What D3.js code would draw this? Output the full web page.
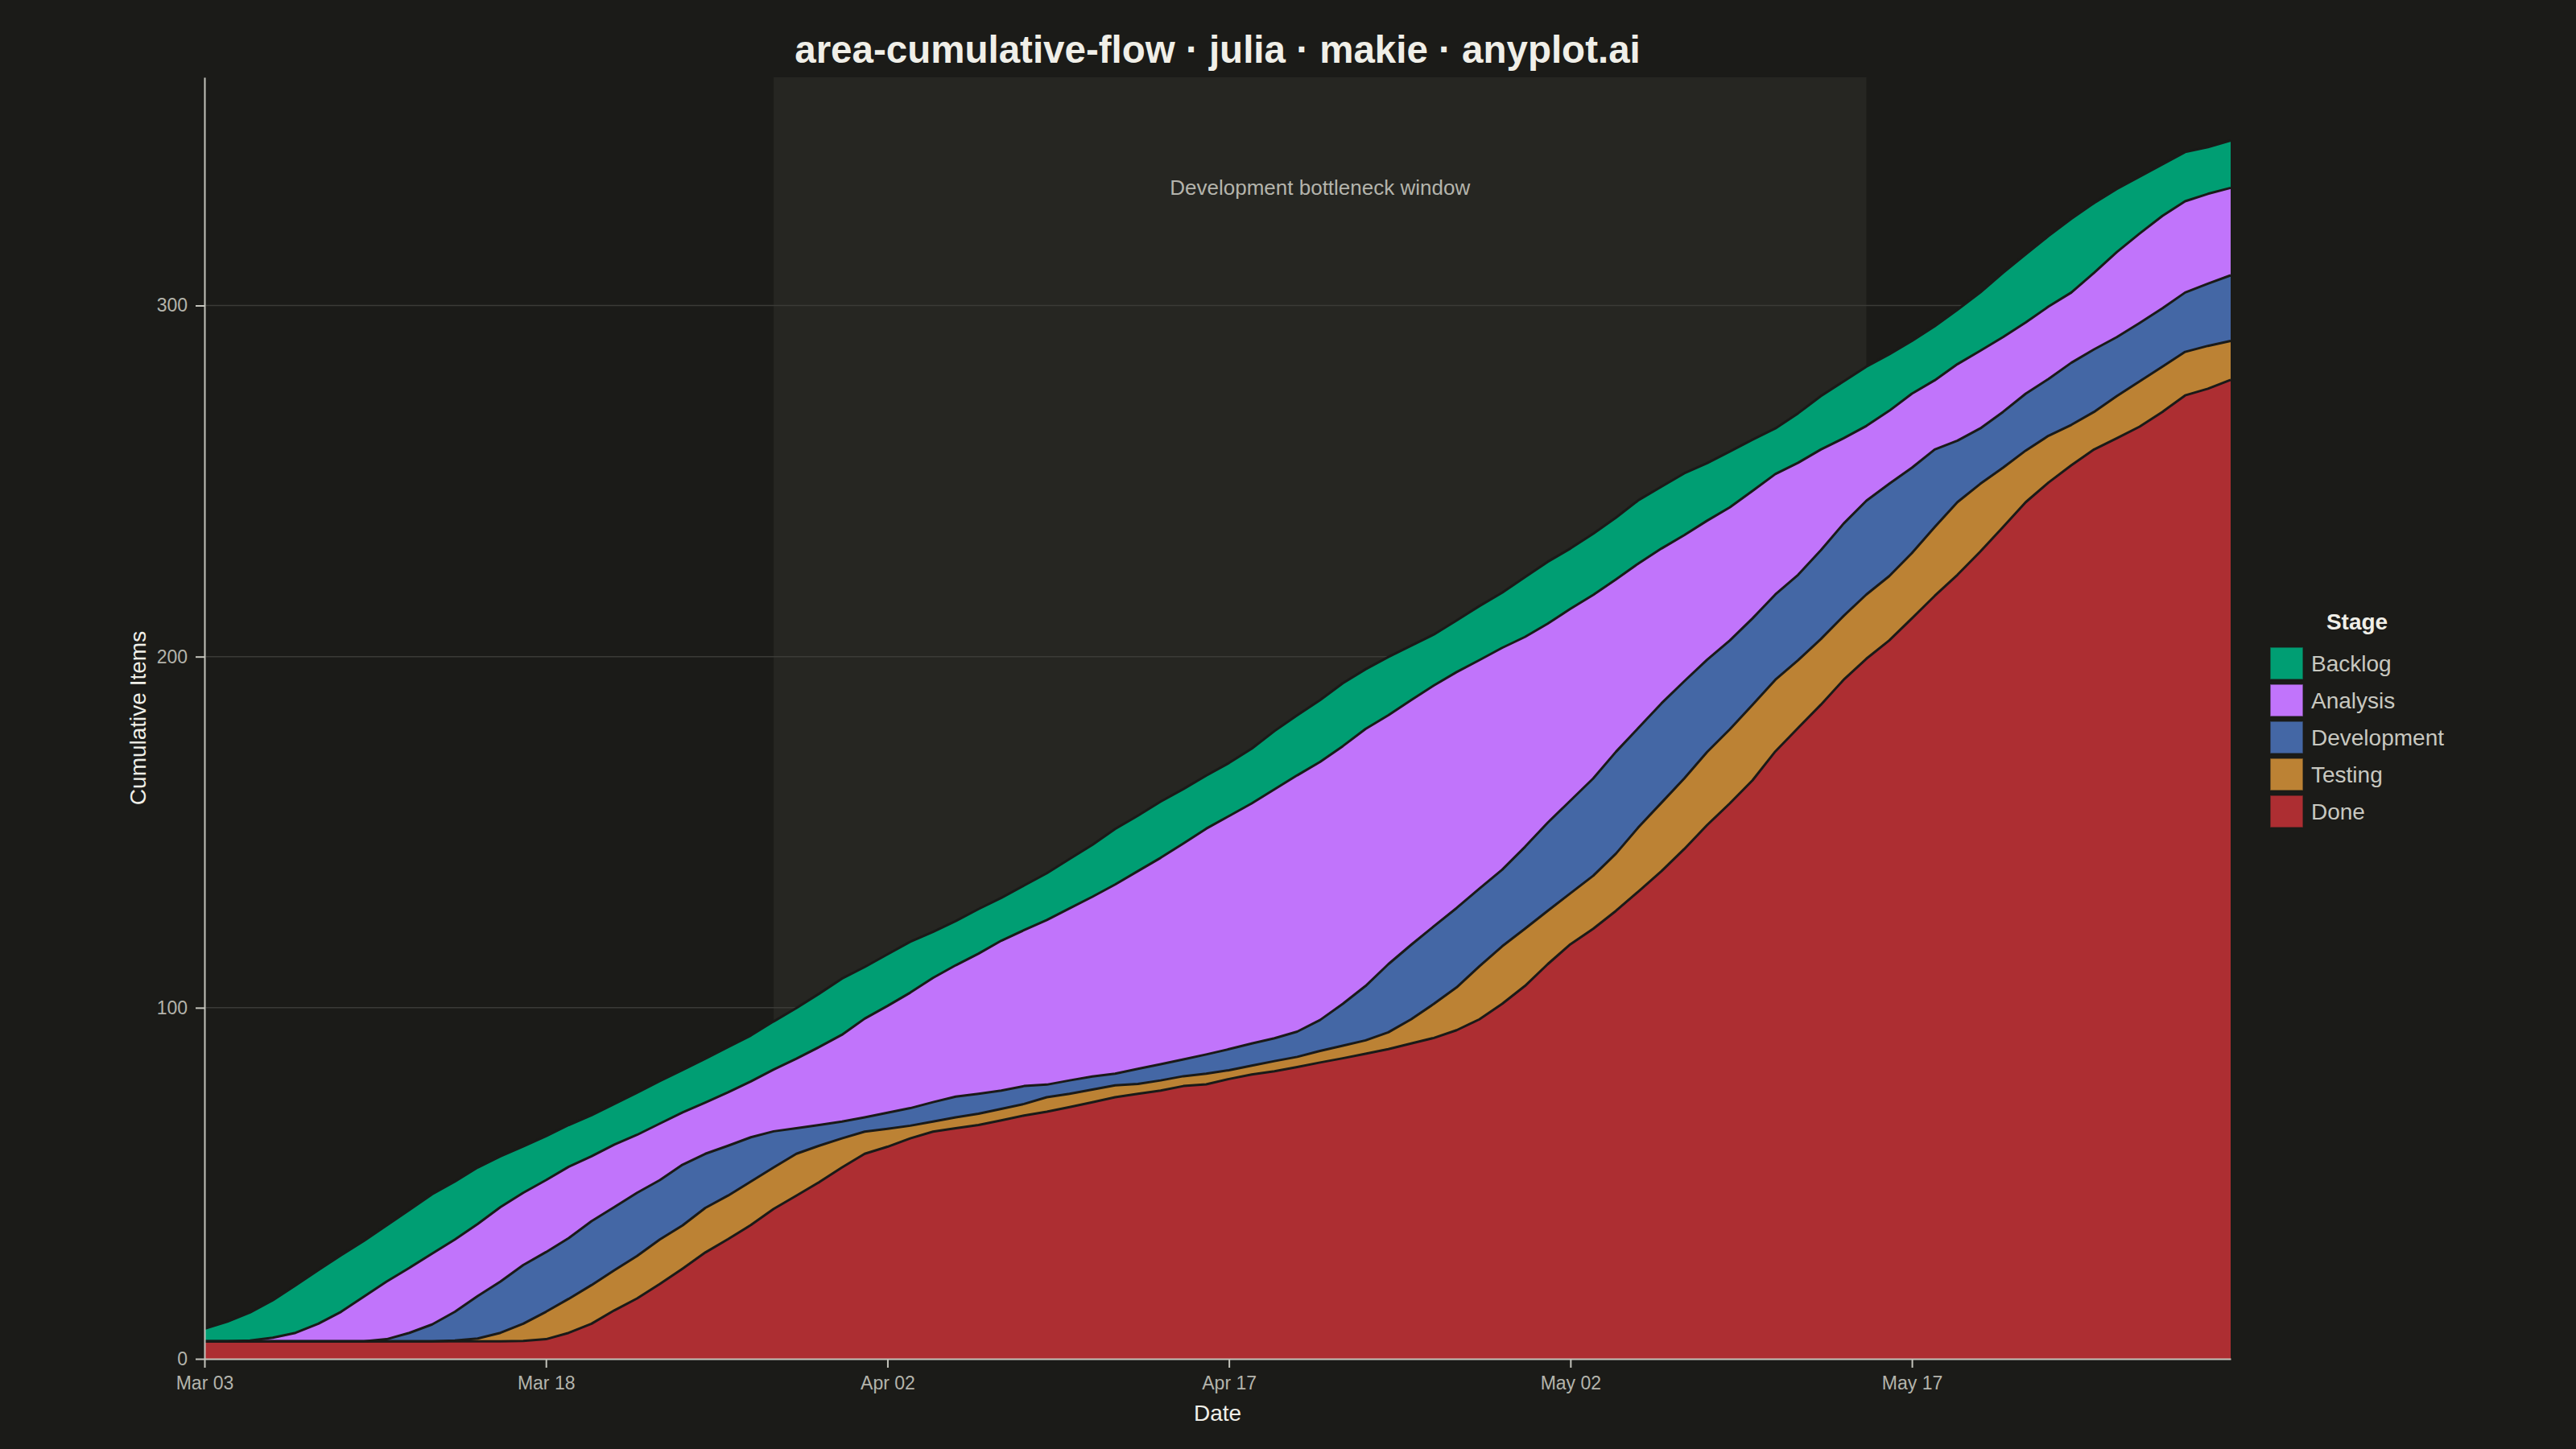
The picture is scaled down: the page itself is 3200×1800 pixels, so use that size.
<!DOCTYPE html>
<html>
<head>
<meta charset="utf-8">
<script src="https://cdn.jsdelivr.net/npm/d3@7"></script>
<style>
    html, body { margin: 0; padding: 0; background: #1b1b18; }
    svg { display: block; font-family: "Liberation Sans", Arial, Helvetica, sans-serif; }
</style>
</head>
<body>
<svg id="chart" width="3200" height="1800"></svg>
<script>
const startDate = '2024-03-03';
const endDate = '2024-05-31';

const stages = ['Backlog', 'Analysis', 'Development', 'Testing', 'Done'];
const stageColors = ['#009e73', '#c174fb', '#4467a5', '#bc8234', '#ad2e32'];

// cumulative number of items that had reached each stage, one value per day
const reachedBacklog = [
    8.6, 10.6, 13.2, 16.7, 20.9, 25.3, 29.5, 33.6, 38.0, 42.4,
    46.9, 50.5, 54.5, 57.7, 60.5, 63.4, 66.6, 69.4, 72.6, 75.8,
    79.1, 82.3, 85.5, 88.8, 92.1, 96.1, 99.9, 104.0, 108.3, 111.6,
    115.2, 118.8, 121.6, 124.7, 128.1, 131.3, 134.8, 138.3, 142.4, 146.4,
    150.9, 154.7, 158.7, 162.3, 166.1, 169.7, 173.8, 178.8, 183.3, 187.6,
    192.4, 196.4, 199.9, 203.1, 206.3, 210.3, 214.4, 218.2, 222.6, 227.0,
    230.8, 235.0, 239.6, 244.6, 248.4, 252.2, 255.1, 258.4, 261.8, 265.0,
    269.3, 274.2, 278.4, 282.6, 286.1, 289.9, 294.1, 298.8, 303.7, 309.3,
    314.6, 319.8, 324.7, 329.2, 333.2, 336.7, 340.2, 343.7, 345.1, 347.0
];
const reachedAnalysis = [
    5.0, 5.0, 5.2, 6.0, 7.4, 10.0, 13.4, 17.7, 22.0, 25.9,
    30.0, 34.0, 38.4, 43.2, 47.3, 50.9, 54.7, 57.7, 61.0, 63.8,
    67.0, 70.2, 73.0, 75.9, 79.0, 82.4, 85.5, 88.8, 92.3, 96.9,
    100.5, 104.3, 108.5, 112.1, 115.4, 119.1, 122.1, 125.0, 128.3, 131.6,
    135.1, 138.9, 142.7, 146.8, 151.0, 154.6, 158.2, 162.2, 166.2, 170.0,
    174.5, 179.4, 183.3, 187.6, 191.8, 195.6, 199.0, 202.5, 205.6, 209.4,
    213.6, 217.6, 222.0, 226.6, 230.8, 234.6, 238.7, 242.5, 247.2, 252.0,
    255.2, 259.0, 262.2, 265.7, 270.0, 274.9, 278.7, 283.3, 287.1, 291.0,
    295.2, 299.7, 303.7, 309.3, 315.2, 320.5, 325.5, 329.7, 331.8, 333.5
];
const reachedDevelopment = [
    5.0, 5.0, 5.0, 5.0, 5.0, 5.0, 5.0, 5.0, 5.6, 7.4,
    9.8, 13.4, 17.9, 22.0, 26.7, 30.4, 34.4, 39.2, 43.2, 47.3,
    50.9, 55.3, 58.4, 60.7, 63.1, 64.8, 65.7, 66.6, 67.6, 68.8,
    70.1, 71.4, 73.1, 74.7, 75.5, 76.4, 77.7, 78.1, 79.3, 80.4,
    81.2, 82.6, 83.9, 85.3, 86.7, 88.2, 89.8, 91.3, 93.2, 96.5,
    101.1, 106.2, 112.4, 117.9, 123.2, 128.4, 133.9, 139.3, 145.8, 152.7,
    159.0, 165.3, 172.9, 179.8, 186.7, 193.0, 199.1, 204.6, 210.9, 217.7,
    223.3, 230.3, 237.9, 244.4, 249.2, 253.8, 259.0, 261.5, 265.0, 269.7,
    274.9, 279.1, 283.7, 287.5, 291.0, 295.0, 299.2, 303.7, 306.2, 308.6
];
const reachedTesting = [
    5.0, 5.0, 5.0, 5.0, 5.0, 5.0, 5.0, 5.0, 5.0, 5.0,
    5.0, 5.2, 5.8, 7.4, 10.0, 13.4, 17.1, 21.0, 25.2, 29.3,
    34.0, 38.0, 43.0, 46.5, 50.5, 54.5, 58.4, 60.7, 62.8, 64.7,
    65.5, 66.4, 67.6, 68.8, 69.8, 71.2, 72.6, 74.5, 75.5, 76.7,
    77.9, 78.3, 79.3, 80.5, 81.2, 82.2, 83.5, 84.8, 86.0, 87.7,
    89.2, 90.7, 93.0, 96.7, 101.1, 105.8, 111.8, 117.5, 122.5, 127.6,
    132.6, 137.6, 143.9, 151.5, 158.4, 165.3, 172.8, 179.3, 186.3, 193.4,
    199.0, 205.0, 211.6, 217.7, 222.9, 229.5, 236.9, 244.0, 249.2, 253.8,
    258.7, 262.9, 266.0, 269.7, 274.2, 278.4, 282.6, 286.8, 288.5, 289.9
];
const reachedDone = [
    5.0, 5.0, 5.0, 5.0, 5.0, 5.0, 5.0, 5.0, 5.0, 5.0,
    5.0, 5.0, 5.0, 5.0, 5.1, 5.6, 7.4, 10.0, 13.8, 17.2,
    21.3, 25.7, 30.3, 34.1, 38.1, 42.7, 46.5, 50.3, 54.5, 58.4,
    60.4, 62.8, 64.7, 65.7, 66.6, 67.9, 69.3, 70.4, 71.7, 73.1,
    74.5, 75.5, 76.4, 77.7, 78.2, 79.7, 81.0, 81.9, 83.1, 84.4,
    85.6, 86.9, 88.2, 89.8, 91.4, 93.6, 96.7, 101.1, 106.2, 112.4,
    118.1, 122.5, 127.6, 133.2, 138.9, 145.2, 152.0, 158.2, 164.8, 173.0,
    179.7, 186.3, 193.4, 199.4, 204.6, 210.9, 217.3, 223.3, 229.9, 236.9,
    244.0, 249.6, 254.5, 259.0, 262.2, 265.5, 269.7, 274.4, 276.3, 278.8
];

const xTickDates = ['2024-03-03', '2024-03-18', '2024-04-02', '2024-04-17', '2024-05-02', '2024-05-17'];
const yTicks = [0, 100, 200, 300];

const windowStart = '2024-03-28';
const windowEnd = '2024-05-15';
const windowLabel = 'Development bottleneck window';

const plot = {left: 254, right: 2771, top: 96, bottom: 1688};
const yMax = 365;
const textColor = '#f0efe8';
const tickColor = '#b4b4ac';

const parseDate = d3.timeParse('%Y-%m-%d');
const dates = d3.timeDay.range(parseDate(startDate), d3.timeDay.offset(parseDate(endDate), 1));

const svg = d3.select('#chart');

svg.append("rect")
    .attr("width", 3200)
    .attr("height", 1800)
    .attr("fill", "#1b1b18");

const x = d3.scaleTime()
    .domain([parseDate(startDate), parseDate(endDate)])
    .range([plot.left, plot.right]);

const y = d3.scaleLinear()
    .domain([0, yMax])
    .range([plot.bottom, plot.top]);

// highlighted window behind everything
svg.append("rect")
    .attr("x", x(parseDate(windowStart)))
    .attr("y", plot.top)
    .attr("width", x(parseDate(windowEnd)) - x(parseDate(windowStart)))
    .attr("height", plot.bottom - plot.top)
    .attr("fill", "#262622");

// grid lines
svg.append("g")
    .selectAll("line")
    .data(yTicks.filter(d => d > 0))
    .enter()
    .append("line")
    .attr("x1", plot.left)
    .attr("x2", plot.right)
    .attr("y1", d => y(d))
    .attr("y2", d => y(d))
    .attr("stroke", "#3b3b37")
    .attr("stroke-width", 1.5);

// bottom-up order: each band sits on the cumulative line of the next stage
const cumulative = {
    Backlog: reachedBacklog,
    Analysis: reachedAnalysis,
    Development: reachedDevelopment,
    Testing: reachedTesting,
    Done: reachedDone
};
const layers = stages.map((stage, i) => {
    const lower = i < stages.length - 1 ? cumulative[stages[i + 1]] : null;
    return {
        stage: stage,
        color: stageColors[i],
        rows: dates.map((date, k) => ({
            date: date,
            y0: lower ? lower[k] : 0,
            y1: cumulative[stage][k]
        }))
    };
});

const area = d3.area()
    .x(d => x(d.date))
    .y0(d => y(d.y0))
    .y1(d => y(d.y1));

const topLine = d3.line()
    .x(d => x(d.date))
    .y(d => y(d.y1));

const bands = svg.append("g");
layers.slice().reverse().forEach(layer => {
    bands.append("path")
        .datum(layer.rows)
        .attr("fill", layer.color)
        .attr("stroke", "none")
        .attr("d", area);
});
layers.slice().reverse().forEach(layer => {
    bands.append("path")
        .datum(layer.rows)
        .attr("fill", "none")
        .attr("stroke", "#1a1a18")
        .attr("stroke-width", 3)
        .attr("stroke-linejoin", "round")
        .attr("d", topLine);
});

svg.append("text")
    .attr("x", x(parseDate(windowStart)) / 2 + x(parseDate(windowEnd)) / 2)
    .attr("y", 242)
    .attr("text-anchor", "middle")
    .attr("font-size", 26)
    .attr("fill", "#b4b4ac")
    .text(windowLabel);

// axes
const xAxis = svg.append("g")
    .attr("transform", "translate(0," + plot.bottom + ")")
    .call(d3.axisBottom(x)
        .tickValues(xTickDates.map(parseDate))
        .tickFormat(d3.timeFormat('%b %d'))
        .tickSize(11)
        .tickSizeOuter(0)
        .tickPadding(11));

const yAxis = svg.append("g")
    .attr("transform", "translate(" + plot.left + ",0)")
    .call(d3.axisLeft(y)
        .tickValues(yTicks)
        .tickSize(11)
        .tickSizeOuter(0)
        .tickPadding(10));

[xAxis, yAxis].forEach(g => {
    g.select(".domain").attr("stroke", "#c4c4bc").attr("stroke-width", 2);
    g.selectAll(".tick line").attr("stroke", "#c4c4bc").attr("stroke-width", 2);
    g.selectAll(".tick text")
        .attr("fill", tickColor)
        .attr("font-size", 23)
        .attr("font-family", null);
});

svg.append("text")
    .attr("x", (plot.left + plot.right) / 2)
    .attr("y", 1765)
    .attr("text-anchor", "middle")
    .attr("font-size", 28)
    .attr("fill", textColor)
    .text("Date");

svg.append("text")
    .attr("transform", "translate(181," + (plot.top + plot.bottom) / 2 + ") rotate(-90)")
    .attr("text-anchor", "middle")
    .attr("font-size", 28)
    .attr("fill", textColor)
    .text("Cumulative Items");

svg.append("text")
    .attr("x", (plot.left + plot.right) / 2)
    .attr("y", 78)
    .attr("text-anchor", "middle")
    .attr("font-size", 47.5)
    .attr("font-weight", "bold")
    .attr("fill", textColor)
    .text("area-cumulative-flow · julia · makie · anyplot.ai");

// legend
const legend = svg.append("g").attr("transform", "translate(2820,804)");

legend.append("text")
    .attr("x", 108)
    .attr("y", -22)
    .attr("text-anchor", "middle")
    .attr("font-size", 28)
    .attr("font-weight", "bold")
    .attr("fill", textColor)
    .text("Stage");

const items = legend.selectAll("g.item")
    .data(stages)
    .enter()
    .append("g")
    .attr("class", "item")
    .attr("transform", (d, i) => "translate(0," + (i * 46) + ")");

items.append("rect")
    .attr("width", 41)
    .attr("height", 40)
    .attr("fill", (d, i) => stageColors[i])
    .attr("stroke", "#1a1a18")
    .attr("stroke-opacity", 0.6)
    .attr("stroke-width", 1.5);

items.append("text")
    .attr("x", 51)
    .attr("y", 20)
    .attr("dy", "0.36em")
    .attr("font-size", 28)
    .attr("fill", "#c8c8c0")
    .text(d => d);
</script>
</body>
</html>
